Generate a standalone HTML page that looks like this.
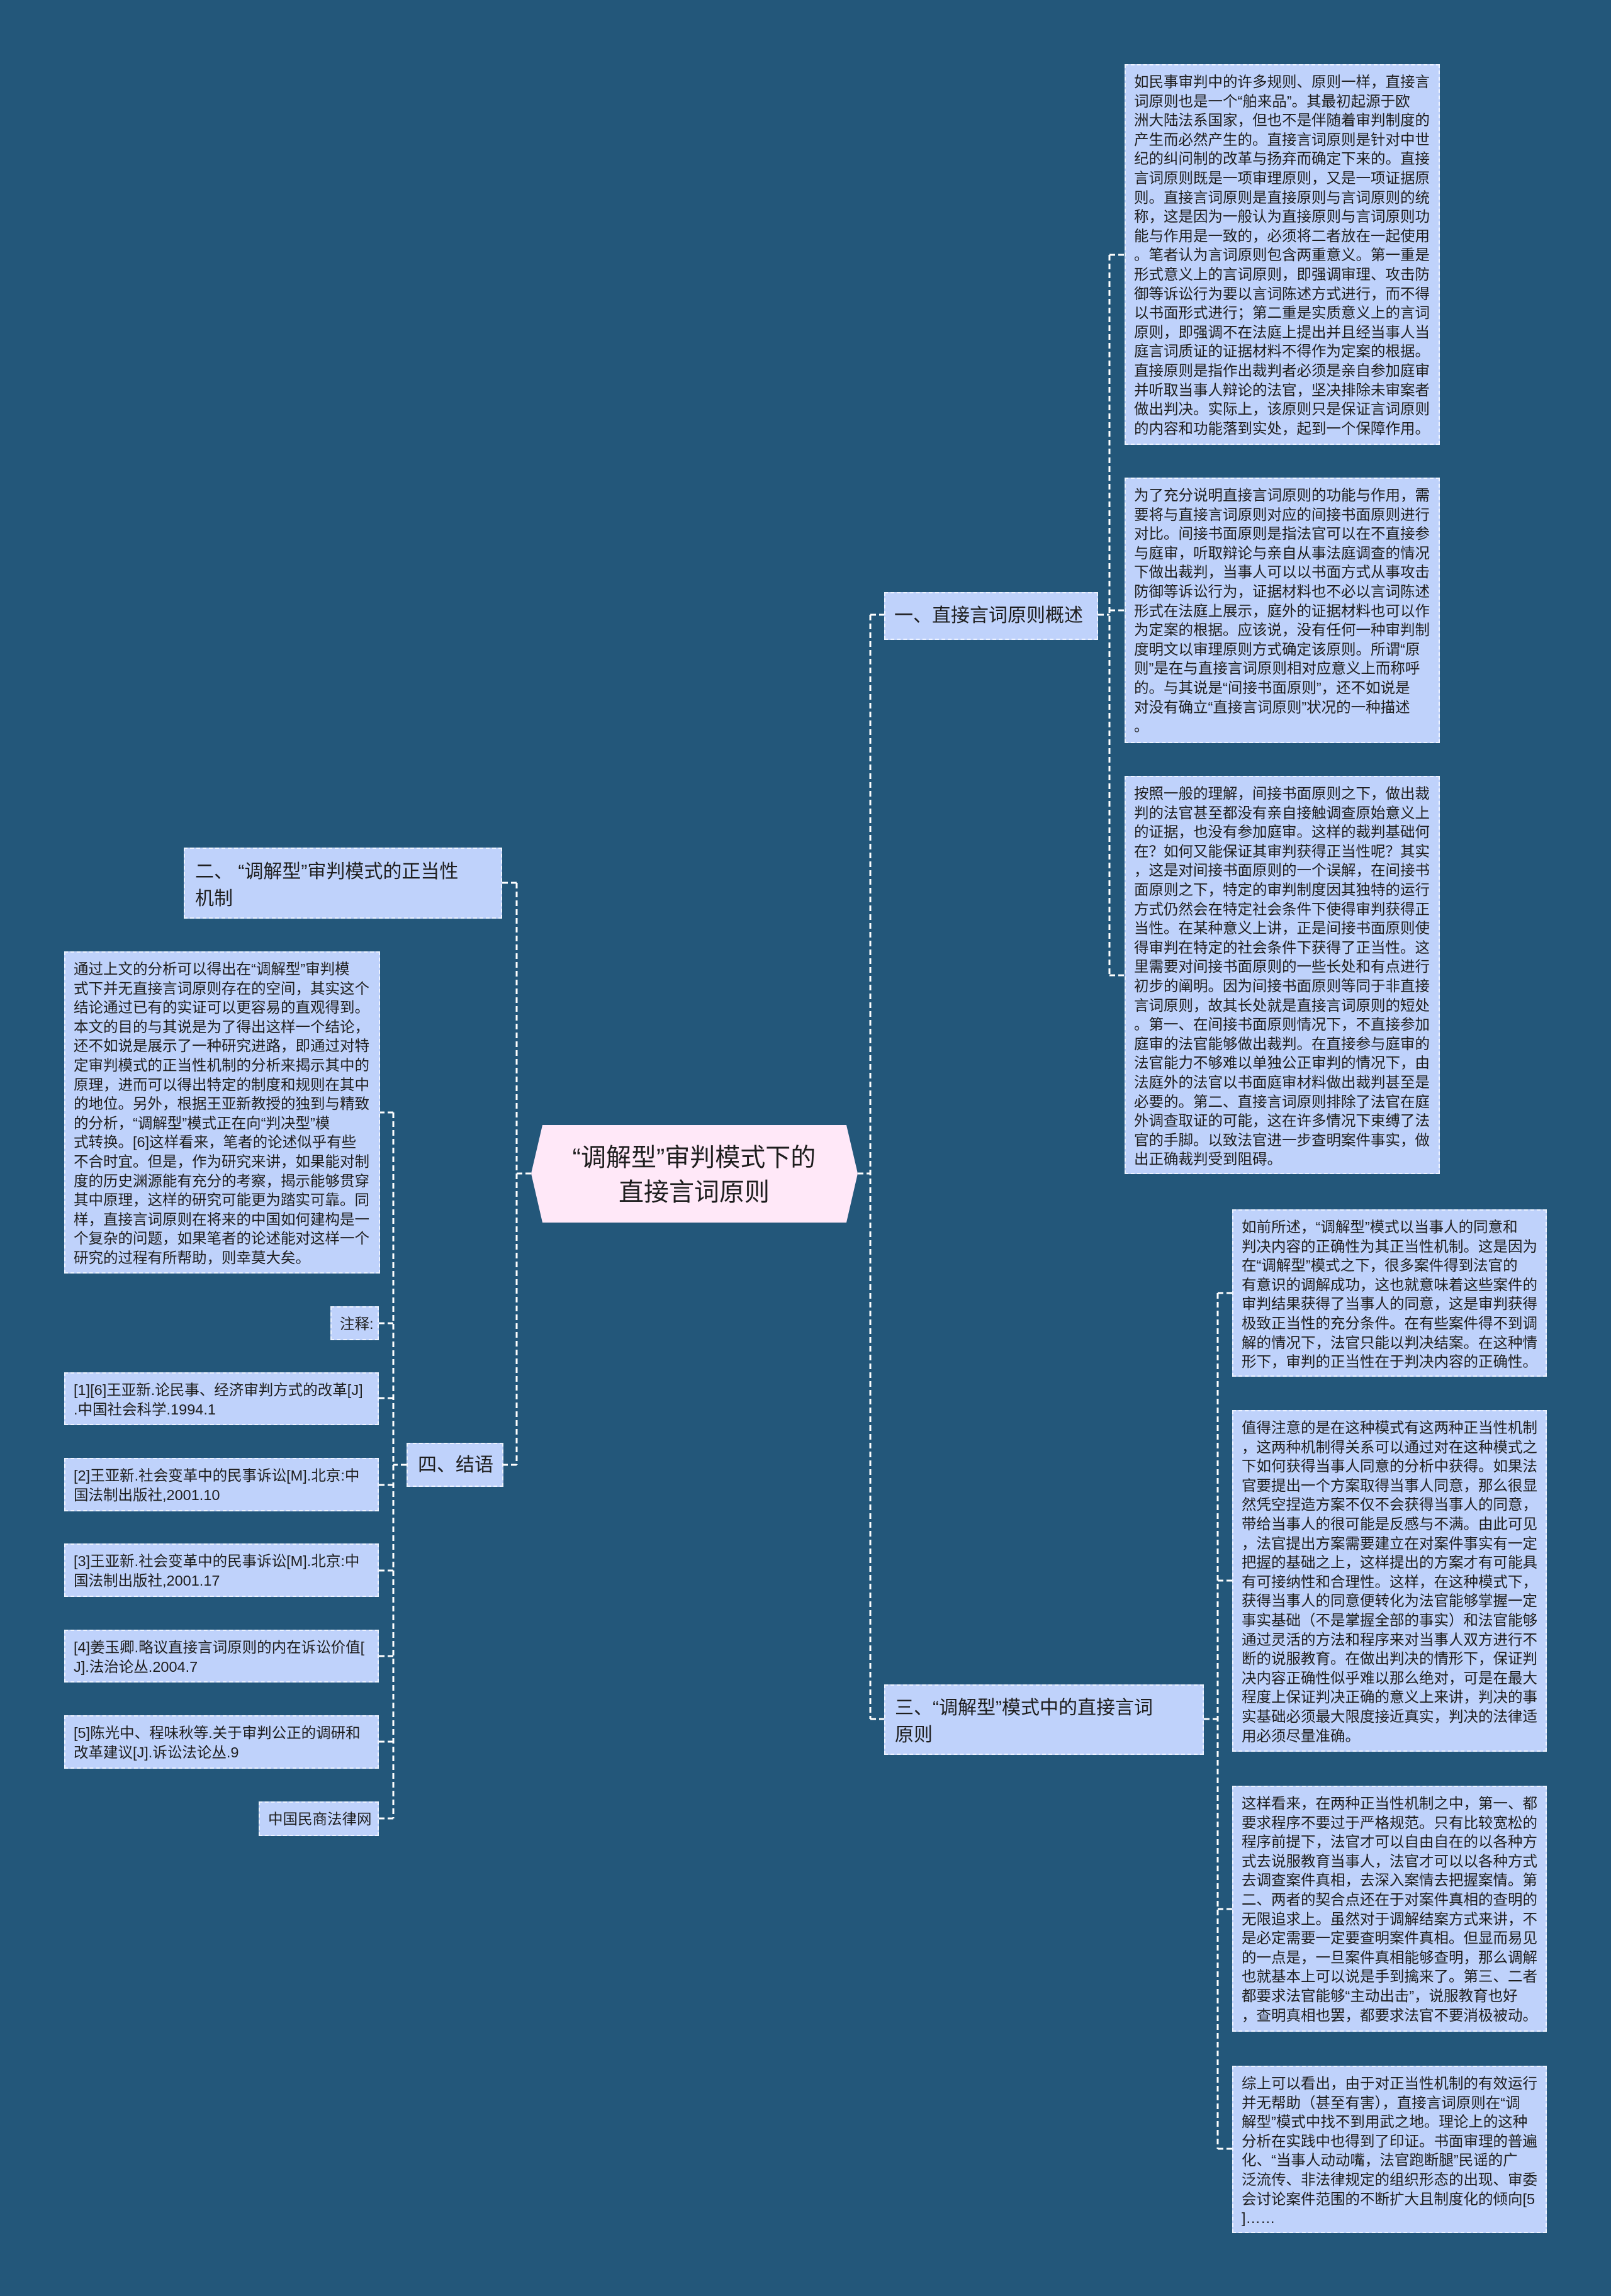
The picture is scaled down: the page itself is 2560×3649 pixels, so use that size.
<!DOCTYPE html>
<html><head><meta charset="utf-8"><style>
*{margin:0;padding:0;box-sizing:border-box}
body{width:2560px;height:3649px;background:#23577a;position:relative;overflow:hidden;font-family:"Liberation Sans","Noto Sans CJK SC",sans-serif;color:#1e1e1e}
.b{position:absolute;background:#bfd2fb;border:2px dashed #eef3ff;font-size:23.5px;line-height:30.6px;padding:11px 0 0 13px;white-space:nowrap}
.n{position:absolute;background:#bfd2fb;border:2px dashed #eef3ff;font-size:30px;line-height:43px;white-space:nowrap}
svg{position:absolute;left:0;top:0}
</style></head><body>
<svg width="2560" height="3649">
<g stroke="#ffffff" stroke-width="3" stroke-dasharray="9,5" fill="none">
<path d="M1363 1865H1383M1383 977V2732M1383 977H1405M1383 2732H1405"/>
<path d="M1745 977H1763M1763 405V1550M1763 405H1787M1763 970H1787M1763 1550H1787"/>
<path d="M1913 2732H1935M1935 2055V3415M1935 2055H1958M1935 2512H1958M1935 3034H1958M1935 3415H1958"/>
<path d="M844 1865H821M821 1403V2328M821 1403H798M821 2328H800"/>
<path d="M646 2328H625M625 1768V2890M625 1768H604M625 2103H602M625 2222H602M625 2360H602M625 2496H602M625 2632H602M625 2768H602M625 2890H602"/>
</g>
<polygon points="844,1865 862,1788 1345,1788 1363,1865 1345,1943 862,1943" fill="#ffe8f8"/>
<text x="1103" y="1853" font-size="40" text-anchor="middle" fill="#1e1e1e" font-family="Liberation Sans, Noto Sans CJK SC, sans-serif">“调解型”审判模式下的</text>
<text x="1103" y="1908" font-size="40" text-anchor="middle" fill="#1e1e1e" font-family="Liberation Sans, Noto Sans CJK SC, sans-serif">直接言词原则</text>
</svg>

<div class="n" style="left:1405px;top:941px;width:340px;height:76px;padding:14px 0 0 14px">一、直接言词原则概述</div>
<div class="n" style="left:1405px;top:2677px;width:508px;height:112px;padding:14px 0 0 15px">三、“调解型”模式中的直接言词<br>原则</div>
<div class="n" style="left:292px;top:1347px;width:506px;height:113px;padding:15px 0 0 16px">二、 “调解型”审判模式的正当性<br>机制</div>
<div class="n" style="left:646px;top:2293px;width:154px;height:70px;padding:12px 0 0 16px">四、结语</div>

<div class="b" style="left:1787px;top:102px;width:501px;height:605px">如民事审判中的许多规则、原则一样，直接言<br>词原则也是一个“舶来品”。其最初起源于欧<br>洲大陆法系国家，但也不是伴随着审判制度的<br>产生而必然产生的。直接言词原则是针对中世<br>纪的纠问制的改革与扬弃而确定下来的。直接<br>言词原则既是一项审理原则，又是一项证据原<br>则。直接言词原则是直接原则与言词原则的统<br>称，这是因为一般认为直接原则与言词原则功<br>能与作用是一致的，必须将二者放在一起使用<br>。笔者认为言词原则包含两重意义。第一重是<br>形式意义上的言词原则，即强调审理、攻击防<br>御等诉讼行为要以言词陈述方式进行，而不得<br>以书面形式进行；第二重是实质意义上的言词<br>原则，即强调不在法庭上提出并且经当事人当<br>庭言词质证的证据材料不得作为定案的根据。<br>直接原则是指作出裁判者必须是亲自参加庭审<br>并听取当事人辩论的法官，坚决排除未审案者<br>做出判决。实际上，该原则只是保证言词原则<br>的内容和功能落到实处，起到一个保障作用。</div>

<div class="b" style="left:1787px;top:759px;width:501px;height:422px">为了充分说明直接言词原则的功能与作用，需<br>要将与直接言词原则对应的间接书面原则进行<br>对比。间接书面原则是指法官可以在不直接参<br>与庭审，听取辩论与亲自从事法庭调查的情况<br>下做出裁判，当事人可以以书面方式从事攻击<br>防御等诉讼行为，证据材料也不必以言词陈述<br>形式在法庭上展示，庭外的证据材料也可以作<br>为定案的根据。应该说，没有任何一种审判制<br>度明文以审理原则方式确定该原则。所谓“原<br>则”是在与直接言词原则相对应意义上而称呼<br>的。与其说是“间接书面原则”，还不如说是<br>对没有确立“直接言词原则”状况的一种描述<br>。</div>

<div class="b" style="left:1787px;top:1233px;width:501px;height:633px">按照一般的理解，间接书面原则之下，做出裁<br>判的法官甚至都没有亲自接触调查原始意义上<br>的证据，也没有参加庭审。这样的裁判基础何<br>在？如何又能保证其审判获得正当性呢？其实<br>，这是对间接书面原则的一个误解，在间接书<br>面原则之下，特定的审判制度因其独特的运行<br>方式仍然会在特定社会条件下使得审判获得正<br>当性。在某种意义上讲，正是间接书面原则使<br>得审判在特定的社会条件下获得了正当性。这<br>里需要对间接书面原则的一些长处和有点进行<br>初步的阐明。因为间接书面原则等同于非直接<br>言词原则，故其长处就是直接言词原则的短处<br>。第一、在间接书面原则情况下，不直接参加<br>庭审的法官能够做出裁判。在直接参与庭审的<br>法官能力不够难以单独公正审判的情况下，由<br>法庭外的法官以书面庭审材料做出裁判甚至是<br>必要的。第二、直接言词原则排除了法官在庭<br>外调查取证的可能，这在许多情况下束缚了法<br>官的手脚。以致法官进一步查明案件事实，做<br>出正确裁判受到阻碍。</div>

<div class="b" style="left:1958px;top:1922px;width:500px;height:266px">如前所述，“调解型”模式以当事人的同意和<br>判决内容的正确性为其正当性机制。这是因为<br>在“调解型”模式之下，很多案件得到法官的<br>有意识的调解成功，这也就意味着这些案件的<br>审判结果获得了当事人的同意，这是审判获得<br>极致正当性的充分条件。在有些案件得不到调<br>解的情况下，法官只能以判决结案。在这种情<br>形下，审判的正当性在于判决内容的正确性。</div>

<div class="b" style="left:1958px;top:2241px;width:500px;height:543px">值得注意的是在这种模式有这两种正当性机制<br>，这两种机制得关系可以通过对在这种模式之<br>下如何获得当事人同意的分析中获得。如果法<br>官要提出一个方案取得当事人同意，那么很显<br>然凭空捏造方案不仅不会获得当事人的同意，<br>带给当事人的很可能是反感与不满。由此可见<br>，法官提出方案需要建立在对案件事实有一定<br>把握的基础之上，这样提出的方案才有可能具<br>有可接纳性和合理性。这样，在这种模式下，<br>获得当事人的同意便转化为法官能够掌握一定<br>事实基础（不是掌握全部的事实）和法官能够<br>通过灵活的方法和程序来对当事人双方进行不<br>断的说服教育。在做出判决的情形下，保证判<br>决内容正确性似乎难以那么绝对，可是在最大<br>程度上保证判决正确的意义上来讲，判决的事<br>实基础必须最大限度接近真实，判决的法律适<br>用必须尽量准确。</div>

<div class="b" style="left:1958px;top:2838px;width:500px;height:391px">这样看来，在两种正当性机制之中，第一、都<br>要求程序不要过于严格规范。只有比较宽松的<br>程序前提下，法官才可以自由自在的以各种方<br>式去说服教育当事人，法官才可以以各种方式<br>去调查案件真相，去深入案情去把握案情。第<br>二、两者的契合点还在于对案件真相的查明的<br>无限追求上。虽然对于调解结案方式来讲，不<br>是必定需要一定要查明案件真相。但显而易见<br>的一点是，一旦案件真相能够查明，那么调解<br>也就基本上可以说是手到擒来了。第三、二者<br>都要求法官能够“主动出击”，说服教育也好<br>，查明真相也罢，都要求法官不要消极被动。</div>

<div class="b" style="left:1958px;top:3283px;width:500px;height:266px">综上可以看出，由于对正当性机制的有效运行<br>并无帮助（甚至有害），直接言词原则在“调<br>解型”模式中找不到用武之地。理论上的这种<br>分析在实践中也得到了印证。书面审理的普遍<br>化、“当事人动动嘴，法官跑断腿”民谣的广<br>泛流传、非法律规定的组织形态的出现、审委<br>会讨论案件范围的不断扩大且制度化的倾向[5<br>]……</div>

<div class="b" style="left:102px;top:1512px;width:502px;height:512px">通过上文的分析可以得出在“调解型”审判模<br>式下并无直接言词原则存在的空间，其实这个<br>结论通过已有的实证可以更容易的直观得到。<br>本文的目的与其说是为了得出这样一个结论，<br>还不如说是展示了一种研究进路，即通过对特<br>定审判模式的正当性机制的分析来揭示其中的<br>原理，进而可以得出特定的制度和规则在其中<br>的地位。另外，根据王亚新教授的独到与精致<br>的分析，“调解型”模式正在向“判决型”模<br>式转换。[6]这样看来，笔者的论述似乎有些<br>不合时宜。但是，作为研究来讲，如果能对制<br>度的历史渊源能有充分的考察，揭示能够贯穿<br>其中原理，这样的研究可能更为踏实可靠。同<br>样，直接言词原则在将来的中国如何建构是一<br>个复杂的问题，如果笔者的论述能对这样一个<br>研究的过程有所帮助，则幸莫大矣。</div>

<div class="b" style="left:525px;top:2076px;width:77px;height:54px;padding-top:11px">注释:</div>
<div class="b" style="left:102px;top:2181px;width:500px;height:84px">[1][6]王亚新.论民事、经济审判方式的改革[J]<br>.中国社会科学.1994.1</div>
<div class="b" style="left:102px;top:2317px;width:500px;height:85px">[2]王亚新.社会变革中的民事诉讼[M].北京:中<br>国法制出版社,2001.10</div>
<div class="b" style="left:102px;top:2453px;width:500px;height:85px">[3]王亚新.社会变革中的民事诉讼[M].北京:中<br>国法制出版社,2001.17</div>
<div class="b" style="left:102px;top:2590px;width:500px;height:84px">[4]姜玉卿.略议直接言词原则的内在诉讼价值[<br>J].法治论丛.2004.7</div>
<div class="b" style="left:102px;top:2726px;width:500px;height:85px">[5]陈光中、程味秋等.关于审判公正的调研和<br>改革建议[J].诉讼法论丛.9</div>
<div class="b" style="left:411px;top:2863px;width:191px;height:55px;padding-top:11px">中国民商法律网</div>
</body></html>
